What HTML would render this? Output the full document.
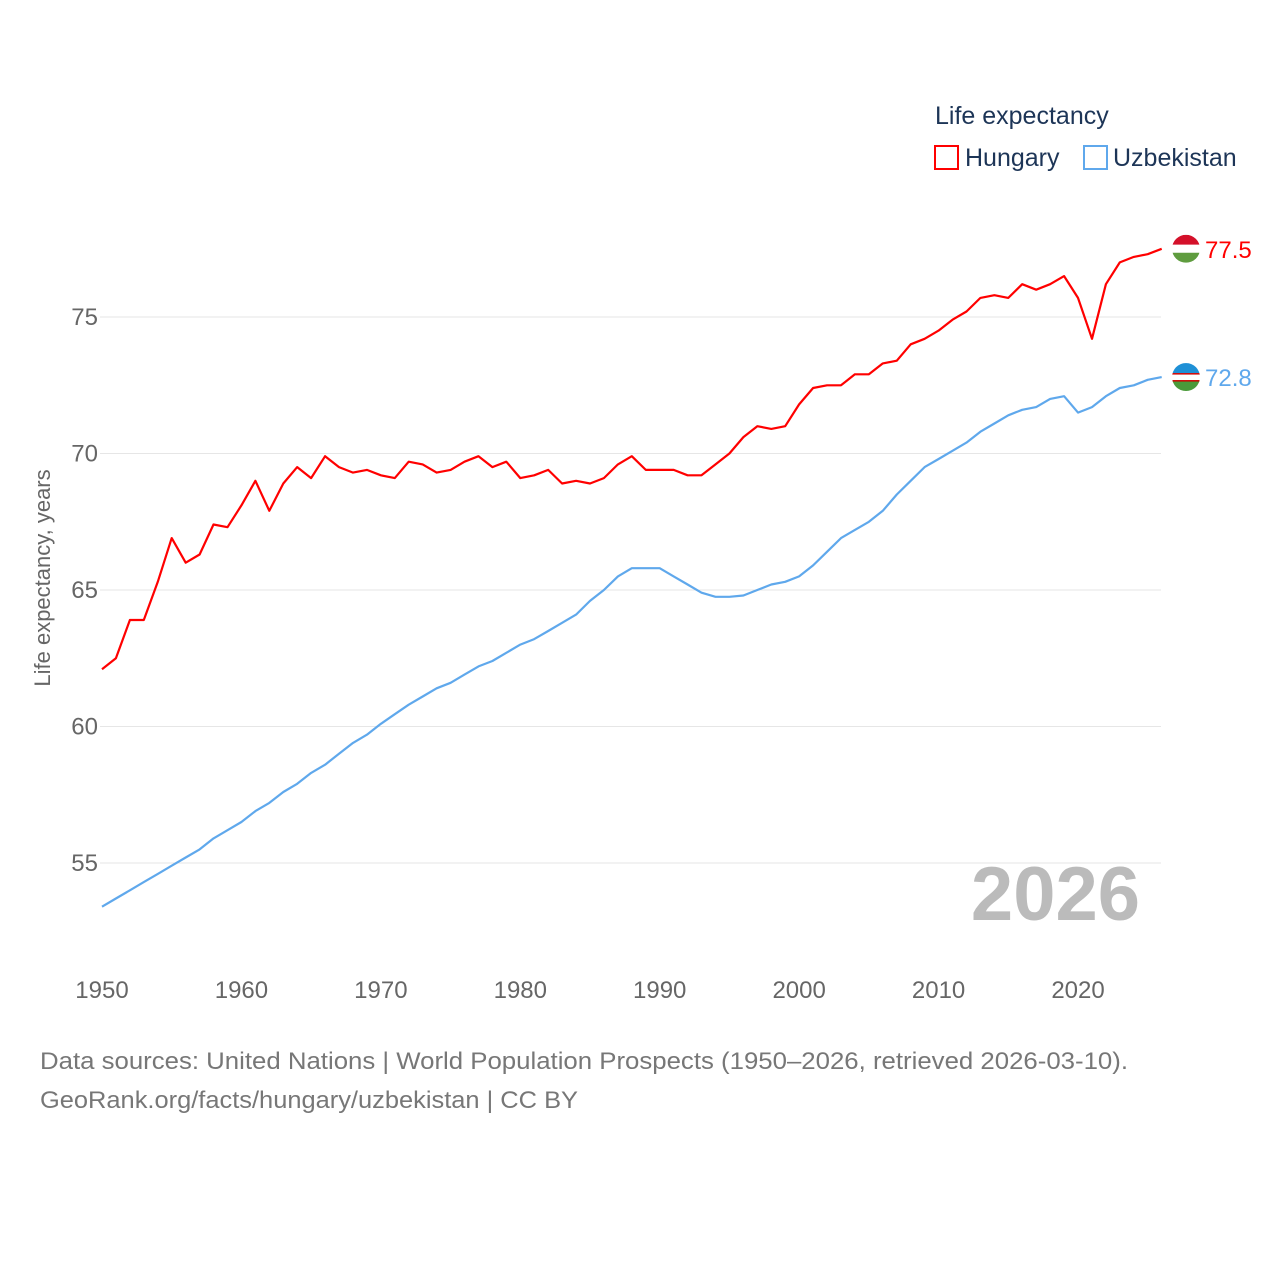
<!DOCTYPE html>
<html><head><meta charset="utf-8"><style>
body{margin:0;background:#fff;font-family:"Liberation Sans",sans-serif}
svg text{font-family:"Liberation Sans",sans-serif}
</style></head><body>
<svg width="1280" height="1280" viewBox="0 0 1280 1280" id="chart">
<text x="935" y="124" font-size="25" fill="#1d3557">Life expectancy</text>
<rect x="935" y="146" width="23" height="23" fill="none" stroke="#f00" stroke-width="2"/>
<text x="965" y="166" font-size="25" fill="#1d3557">Hungary</text>
<rect x="1084" y="146" width="23" height="23" fill="none" stroke="#5fa8ec" stroke-width="2"/>
<text x="1113" y="166" font-size="25" fill="#1d3557">Uzbekistan</text>
<text transform="translate(50,578) rotate(-90)" text-anchor="middle" font-size="22" fill="#666">Life expectancy, years</text>
<g id="grid"></g><g id="lines"></g>
<text x="1140" y="920" text-anchor="end" font-size="76" font-weight="bold" fill="#bbb">2026</text>
<text x="40" y="1069" font-size="24" fill="#777" textLength="1088" lengthAdjust="spacingAndGlyphs">Data sources: United Nations | World Population Prospects (1950–2026, retrieved 2026-03-10).</text>
<text x="40" y="1108" font-size="24" fill="#777" textLength="538" lengthAdjust="spacingAndGlyphs">GeoRank.org/facts/hungary/uzbekistan | CC BY</text>
</svg>
<script>
const yTicks=[55,60,65,70,75];
const xTicks=[1950,1960,1970,1980,1990,2000,2010,2020];
const startYear=1950;
const hungary=[62.1,62.5,63.9,63.9,65.3,66.9,66.0,66.3,67.4,67.3,68.1,69.0,67.9,68.9,69.5,69.1,69.9,69.5,69.3,69.4,69.2,69.1,69.7,69.6,69.3,69.4,69.7,69.9,69.5,69.7,69.1,69.2,69.4,68.9,69.0,68.9,69.1,69.6,69.9,69.4,69.4,69.4,69.2,69.2,69.6,70.0,70.6,71.0,70.9,71.0,71.8,72.4,72.5,72.5,72.9,72.9,73.3,73.4,74.0,74.2,74.5,74.9,75.2,75.7,75.8,75.7,76.2,76.0,76.2,76.5,75.7,74.2,76.2,77.0,77.2,77.3,77.5];
const uzbekistan=[53.4,53.7,54.0,54.3,54.6,54.9,55.2,55.5,55.9,56.2,56.5,56.9,57.2,57.6,57.9,58.3,58.6,59.0,59.4,59.7,60.1,60.45,60.8,61.1,61.4,61.6,61.9,62.2,62.4,62.7,63.0,63.2,63.5,63.8,64.1,64.6,65.0,65.5,65.8,65.8,65.8,65.5,65.2,64.9,64.75,64.75,64.8,65.0,65.2,65.3,65.5,65.9,66.4,66.9,67.2,67.5,67.9,68.5,69.0,69.5,69.8,70.1,70.4,70.8,71.1,71.4,71.6,71.7,72.0,72.1,71.5,71.7,72.1,72.4,72.5,72.7,72.8];
const NS='http://www.w3.org/2000/svg';
const xs=yr=>102+(yr-1950)*13.943;
const ys=v=>317+(75-v)*27.3;
const grid=document.getElementById('grid'),lines=document.getElementById('lines');
function mk(tag,attrs,parent){const e=document.createElementNS(NS,tag);for(const k in attrs)e.setAttribute(k,attrs[k]);parent.appendChild(e);return e;}
yTicks.forEach(t=>{
 const l=mk('line',{x1:100,x2:1161,y1:ys(t),y2:ys(t),stroke:'#e6e6e6','stroke-width':1},grid);
 
 
 const tx=mk('text',{x:98,y:ys(t)+8,'text-anchor':'end','font-size':24,fill:'#666'},grid);
 tx.textContent=t;
 
 
});
xTicks.forEach(t=>{
 const tx=mk('text',{x:xs(t),y:998,'text-anchor':'middle','font-size':24,fill:'#666'},grid);
 tx.textContent=t;
 
 
});
function series(vals,color,name,top,bot){
 const d=vals.map((v,i)=>(i?'L':'M')+xs(startYear+i).toFixed(1)+','+ys(v).toFixed(1)).join('');
 const p=mk('path',{d:d,fill:'none',stroke:color,'stroke-width':2.2,'stroke-linejoin':'round'},lines);
 
 
 const last=vals[vals.length-1],cx=1186,cy=ys(last);
 const g=mk('g',{},lines);
 
 
 mk('clipPath',{id:'c'+name},g).appendChild(document.createElementNS(NS,'circle')).setAttribute('r',14);
 const c=g.querySelector('circle');c.setAttribute('cx',cx);c.setAttribute('cy',cy);
 const inner=mk('g',{'clip-path':'url(#c'+name+')'},g);
 mk('rect',{x:cx-14,y:cy-14,width:28,height:10,fill:top},inner);
 mk('rect',{x:cx-14,y:cy-4,width:28,height:8,fill:'#fff'},inner);
 mk('rect',{x:cx-14,y:cy+4,width:28,height:10,fill:bot},inner);
 if(name==='uzbekistan'){mk('rect',{x:cx-14,y:cy-4,width:28,height:1.5,fill:'#c00'},inner);mk('rect',{x:cx-14,y:cy+3,width:28,height:1.5,fill:'#c00'},inner);}
 const tx=mk('text',{x:1205,y:cy+9,'font-size':24,fill:color},lines);
 tx.textContent=last.toFixed(1);
 
 
}
series(hungary,'#f00','hungary','#d4102a','#5f9c3f');
series(uzbekistan,'#5fa8ec','uzbekistan','#1e90d6','#4a9a3a');
</script>
</body></html>
